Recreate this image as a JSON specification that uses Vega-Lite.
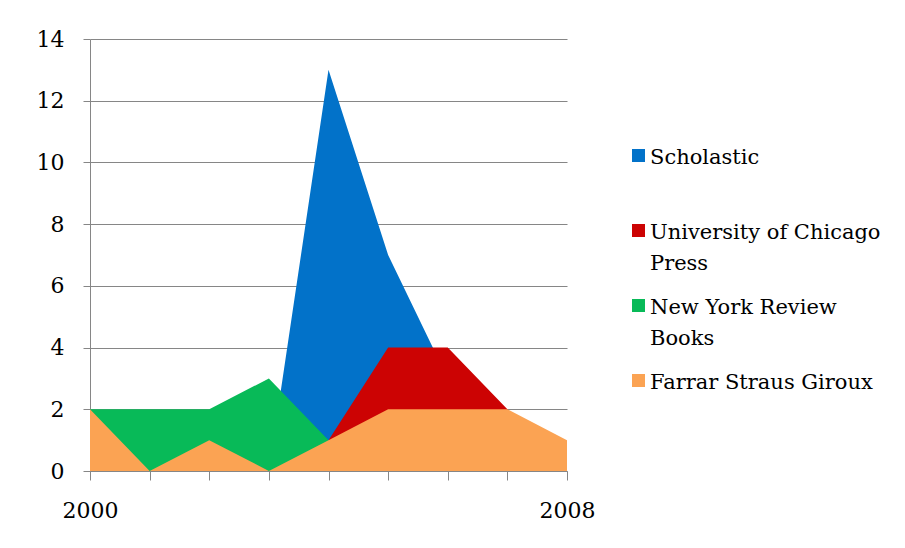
{
  "$schema": "https://vega.github.io/schema/vega-lite/v6.json",
  "width": 477,
  "height": 432,
  "autosize": {"type": "none"},
  "padding": {"left": 90, "top": 39, "right": 338, "bottom": 77},
  "background": "white",
  "config": {
    "view": {"stroke": null},
    "font": "DejaVu Serif",
    "style": {"guide-label": {"dy": -9, "lineHeight": 31}},
    "axis": {"labelFont": "DejaVu Serif", "labelFontSize": 22, "labelColor": "black", "domainColor": "#868686", "tickColor": "#868686", "gridColor": "#868686"}
  },
  "data": {
    "values": [
      {"year": 2000, "publisher": "Scholastic", "count": 0},
      {"year": 2001, "publisher": "Scholastic", "count": 0},
      {"year": 2002, "publisher": "Scholastic", "count": 0},
      {"year": 2003, "publisher": "Scholastic", "count": 0},
      {"year": 2004, "publisher": "Scholastic", "count": 13},
      {"year": 2005, "publisher": "Scholastic", "count": 7},
      {"year": 2006, "publisher": "Scholastic", "count": 3},
      {"year": 2007, "publisher": "Scholastic", "count": 0},
      {"year": 2008, "publisher": "Scholastic", "count": 0},
      {"year": 2000, "publisher": "University of Chicago Press", "count": 0},
      {"year": 2001, "publisher": "University of Chicago Press", "count": 0},
      {"year": 2002, "publisher": "University of Chicago Press", "count": 0},
      {"year": 2003, "publisher": "University of Chicago Press", "count": 0},
      {"year": 2004, "publisher": "University of Chicago Press", "count": 1},
      {"year": 2005, "publisher": "University of Chicago Press", "count": 4},
      {"year": 2006, "publisher": "University of Chicago Press", "count": 4},
      {"year": 2007, "publisher": "University of Chicago Press", "count": 2},
      {"year": 2008, "publisher": "University of Chicago Press", "count": 0},
      {"year": 2000, "publisher": "New York Review Books", "count": 2},
      {"year": 2001, "publisher": "New York Review Books", "count": 2},
      {"year": 2002, "publisher": "New York Review Books", "count": 2},
      {"year": 2003, "publisher": "New York Review Books", "count": 3},
      {"year": 2004, "publisher": "New York Review Books", "count": 1},
      {"year": 2005, "publisher": "New York Review Books", "count": 0},
      {"year": 2006, "publisher": "New York Review Books", "count": 0},
      {"year": 2007, "publisher": "New York Review Books", "count": 0},
      {"year": 2008, "publisher": "New York Review Books", "count": 0},
      {"year": 2000, "publisher": "Farrar Straus Giroux", "count": 2},
      {"year": 2001, "publisher": "Farrar Straus Giroux", "count": 0},
      {"year": 2002, "publisher": "Farrar Straus Giroux", "count": 1},
      {"year": 2003, "publisher": "Farrar Straus Giroux", "count": 0},
      {"year": 2004, "publisher": "Farrar Straus Giroux", "count": 1},
      {"year": 2005, "publisher": "Farrar Straus Giroux", "count": 2},
      {"year": 2006, "publisher": "Farrar Straus Giroux", "count": 2},
      {"year": 2007, "publisher": "Farrar Straus Giroux", "count": 2},
      {"year": 2008, "publisher": "Farrar Straus Giroux", "count": 1}
    ]
  },
  "encoding": {
    "x": {
      "field": "year", "type": "quantitative",
      "scale": {"domain": [2000, 2008], "nice": false, "zero": false},
      "axis": {"title": null, "values": [2000, 2001, 2002, 2003, 2004, 2005, 2006, 2007, 2008], "labelExpr": "datum.value == 2000 || datum.value == 2008 ? datum.value : ''", "format": "d", "grid": false, "tickSize": 9, "labelPadding": 29, "labelFlush": false, "labelOverlap": false}
    },
    "y": {
      "field": "count", "type": "quantitative",
      "scale": {"domain": [0, 14], "nice": false},
      "axis": {"title": null, "values": [0, 2, 4, 6, 8, 10, 12, 14], "tickSize": 7, "labelPadding": 19, "labelOffset": 9, "grid": true, "gridWidth": 1.2}
    },
    "color": {
      "field": "publisher", "type": "nominal",
      "scale": {
        "domain": ["Scholastic", "University of Chicago Press", "New York Review Books", "Farrar Straus Giroux"],
        "range": ["#0272C9", "#CC0303", "#08BA58", "#FBA353"]
      },
      "legend": {
        "title": null, "orient": "none", "legendX": 538, "legendY": 106,
        "labelFont": "DejaVu Serif", "labelFontSize": 21, "labelColor": "black",
        "symbolType": "square", "symbolSize": 169, "symbolStrokeWidth": 0,
        "labelExpr": "datum.label == 'University of Chicago Press' ? ['University of Chicago', 'Press'] : datum.label == 'New York Review Books' ? ['New York Review', 'Books'] : [datum.label, '']",
        "labelLimit": 400, "labelOffset": 1, "rowPadding": 21, "labelBaseline": "top"
      }
    }
  },
  "layer": [
    {"transform": [{"filter": "datum.publisher == 'Scholastic'"}], "mark": {"type": "area", "opacity": 1}},
    {"transform": [{"filter": "datum.publisher == 'University of Chicago Press'"}], "mark": {"type": "area", "opacity": 1}},
    {"transform": [{"filter": "datum.publisher == 'New York Review Books'"}], "mark": {"type": "area", "opacity": 1}},
    {"transform": [{"filter": "datum.publisher == 'Farrar Straus Giroux'"}], "mark": {"type": "area", "opacity": 1}}
  ]
}
